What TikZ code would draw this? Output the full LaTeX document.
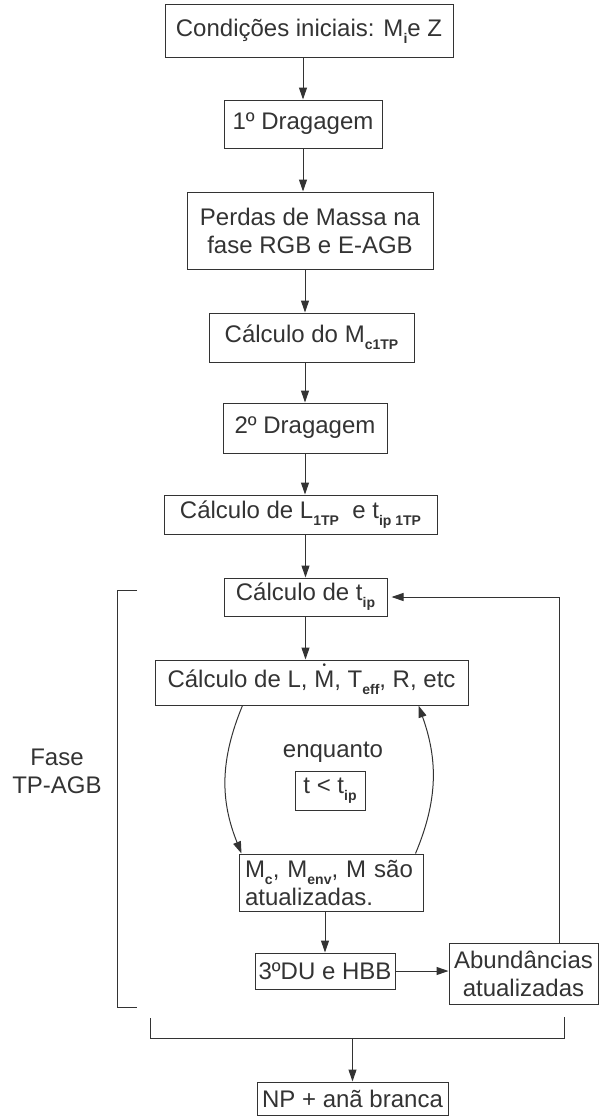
\documentclass[tikz,border=0pt]{standalone}
\usepackage{fontspec}
\setmainfont{Liberation Sans}
\usetikzlibrary{arrows.meta,calc}
\definecolor{ink}{HTML}{333333}
\newcommand\lowtxt[1]{\raisebox{-0.3em}{\fontsize{14}{14}\selectfont\bfseries #1}}
\newcommand\Mdot{\mbox{\ooalign{M\cr\hidewidth\raisebox{0.78em}{\fontsize{10}{10}\selectfont •}\hidewidth\cr}}}
\begin{document}
\begin{tikzpicture}[x=1pt,y=-1pt,
  box/.style={draw=ink,line width=1pt,inner sep=0pt,align=center,text=ink,font=\fontsize{24}{28}\selectfont},
  lbl/.style={inner sep=0pt,align=center,text=ink,font=\fontsize{24}{28}\selectfont},
  arr/.style={draw=ink,line width=1pt,-{Triangle[length=12pt,width=8pt]}},
  ln/.style={draw=ink,line width=1pt}]
\useasboundingbox (0,0) rectangle (599,1117);

\node[box,minimum width=288pt,minimum height=53pt] (b1) at (309,31) {Condições iniciais: M\lowtxt{i}e Z};
\node[box,minimum width=158pt,minimum height=48pt] (b2) at (303,124) {1º Dragagem};
\node[box,minimum width=246pt,minimum height=77pt] (b3) at (310,230.5) {Perdas de Massa na\\fase RGB e E-AGB};
\node[box,minimum width=205pt,minimum height=49pt] (b4) at (311.5,337.5) {Cálculo do M\lowtxt{c1TP}};
\node[box,minimum width=164pt,minimum height=50pt] (b5) at (305,428) {2º Dragagem};
\node[box,minimum width=273pt,minimum height=39pt] (b6) at (300.5,514.5) {Cálculo de L\lowtxt{1TP}\ \ e t\lowtxt{ip 1TP}};
\node[box,minimum width=163pt,minimum height=38pt] (b7) at (305.5,597) {Cálculo de t\lowtxt{ip}};
\node[box,minimum width=313pt,minimum height=45pt] (b8) at (311.5,682.5) {Cálculo de L, \Mdot, T\lowtxt{eff}, R, etc};
\node[lbl] (enq) at (333,752) {enquanto};
\node[box,minimum width=70pt,minimum height=39pt] (tl) at (330,790.5) {t < t\lowtxt{ip}};
\node[box,minimum height=57pt,text width=172pt,inner xsep=6pt,align=left] (b9) at (331,882.5) {M\lowtxt{c}, M\lowtxt{env}, M são\\atualizadas.};
\node[box,minimum width=140pt,minimum height=36pt] (b10) at (325,971) {3ºDU e HBB};
\node[box,minimum width=149pt,minimum height=61pt] (ab) at (523.5,973.5) {Abundâncias\\atualizadas};
\node[box,minimum width=191pt,minimum height=33pt] (np) at (352.5,1098.5) {NP + anã branca};
\node[lbl] (fase) at (57,771) {Fase\\TP-AGB};

\coordinate (bl) at (150,1018);
\coordinate (br) at (564,1017);
\coordinate (bm) at (350,1038);
\coordinate (lt) at (137,590);
\coordinate (lb) at (137,1007);

% main spine
\draw[arr] (b2.north |- b1.south) -- (b2.north);
\draw[arr] (b2.south) -- (b2.south |- b3.north);
\draw[arr] (b3.south -| b5.north) -- (b4.north -| b5.north);
\draw[arr] (b4.south -| b5.north) -- (b5.north);
\draw[arr] (b5.south) -- (b5.south |- b6.north);
\draw[arr] (b6.south -| b7.north) -- (b7.north);
\draw[arr] (b7.south) -- (b7.south |- b8.north);

% loop
\draw[arr] ([xshift=88pt]b8.south west) .. controls (220,760) and (220,800) .. ([xshift=3pt]b9.north west);
\draw[arr] ([xshift=-8pt]b9.north east) .. controls (438,800) and (438,760) .. ([xshift=-50pt]b8.south east);

\draw[arr] (b10.north |- b9.south) -- (b10.north);
\draw[arr] (b10.east) -- (b10.east -| ab.west);
\draw[arr,shorten >=4pt] ([xshift=35.5pt]ab.north) |- (b7.east);

% brackets
\draw[ln] (lt) -- (lt -| 117,0) -- (lb -| 117,0) -- (lb);
\draw[ln] (bl) -- (bl |- bm) -- (br |- bm) -- (br);
\draw[arr] (np.north |- bm) -- (np.north);
\end{tikzpicture}
\end{document}
